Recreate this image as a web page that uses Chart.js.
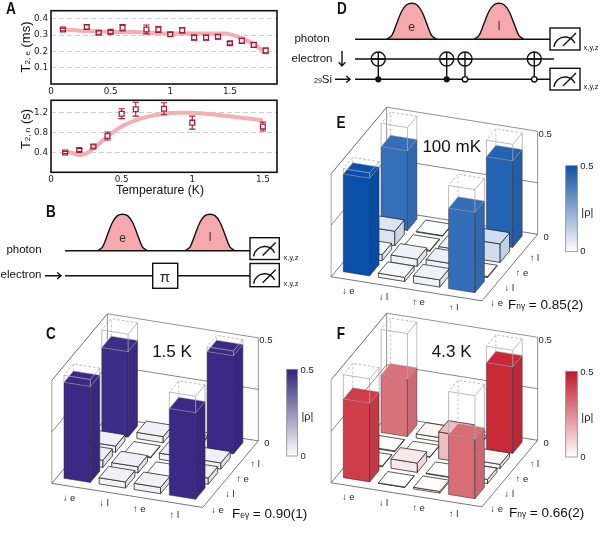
<!DOCTYPE html>
<html>
<head>
<meta charset="utf-8">
<script src="https://cdn.jsdelivr.net/npm/chart.js@4/dist/chart.umd.js"></script>
<style>
  html, body { margin: 0; padding: 0; background: #fff; }
  #page { position: relative; width: 600px; height: 538px; overflow: hidden; font-family: "Liberation Sans", sans-serif; color: #111; }
  canvas { position: absolute; }
  .lbl { position: absolute; white-space: nowrap; transform: translate(-50%, -50%); line-height: 1; }
  .left { transform: translate(0, -50%); }
  .rot { transform: translate(-50%, -50%) rotate(-90deg); }
  .panel { font-family: "Liberation Sans", sans-serif; font-weight: bold; font-size: 17px; transform: translate(-50%, -50%) scaleX(0.8); }
  sub { font-size: 62%; vertical-align: -20%; line-height: 0; }
  sup { font-size: 62%; vertical-align: 45%; line-height: 0; }
</style>
</head>
<body>
<div id="page">
  <canvas id="chartA1" width="290" height="100" style="left:0;top:0"></canvas>
  <canvas id="chartA2" width="290" height="100" style="left:0;top:92px"></canvas>
  <canvas id="circuitB" width="300" height="110" style="left:0;top:195px"></canvas>
  <canvas id="circuitD" width="300" height="100" style="left:300px;top:0"></canvas>
  <canvas id="histC" width="320" height="228" style="left:0;top:310px"></canvas>
  <canvas id="histE" width="280" height="210" style="left:320px;top:100px"></canvas>
  <canvas id="histF" width="280" height="228" style="left:320px;top:310px"></canvas>
</div>
<script>
// panel A, electron coherence
const tempE = [0.1, 0.3, 0.4, 0.5, 0.6, 0.8, 0.9, 1.0, 1.1, 1.2, 1.3, 1.4, 1.5, 1.6, 1.7, 1.8];
const t2e = [0.335, 0.35, 0.315, 0.32, 0.345, 0.335, 0.335, 0.305, 0.33, 0.285, 0.285, 0.29, 0.25, 0.265, 0.24, 0.205];
const t2eErr = [0.008, 0.012, 0.01, 0.008, 0.02, 0.027, 0.018, 0.012, 0.016, 0.015, 0.015, 0.013, 0.01, 0.015, 0.015, 0.016];
const fitTempE = [0.1, 0.3, 0.5, 0.7, 0.9, 1.1, 1.3, 1.45, 1.55, 1.65, 1.72, 1.8];
const fitE = [0.335, 0.325, 0.32, 0.32, 0.312, 0.31, 0.31, 0.31, 0.295, 0.265, 0.235, 0.19];
const ticksA1X = [0, 0.5, 1, 1.5];
const ticksA1Y = [0.1, 0.2, 0.3, 0.4];

// panel A, nuclear coherence
const tempN = [0.1, 0.2, 0.3, 0.4, 0.5, 0.6, 0.8, 1.0, 1.5];
const t2n = [0.4, 0.45, 0.52, 0.73, 1.18, 1.27, 1.28, 1.0, 0.92];
const t2nErr = [0.02, 0.03, 0.03, 0.08, 0.1, 0.14, 0.12, 0.13, 0.09];
const fitTempN = [0.1, 0.15, 0.2, 0.25, 0.3, 0.4, 0.5, 0.6, 0.7, 0.8, 0.9, 1.0, 1.1, 1.2, 1.35, 1.5];
const fitN = [0.42, 0.39, 0.35, 0.38, 0.48, 0.72, 0.92, 1.05, 1.13, 1.18, 1.2, 1.2, 1.18, 1.15, 1.1, 1.05];
const ticksA2X = [0, 0.5, 1, 1.5];
const ticksA2Y = [0.4, 0.8, 1.2];

// pulse envelope in the circuits
const pulseTime = [-1, -0.8, -0.6, -0.4, -0.2, 0, 0.2, 0.4, 0.6, 0.8, 1];
const pulseAmp = [0, 0.1, 0.44, 0.78, 0.96, 1, 0.96, 0.78, 0.44, 0.1, 0];

// density matrices, one row of |rho| per column state
const colStates = ['\u2193 e', '\u2193 l', '\u2191 e', '\u2191 l'];
const rowStates = ['\u2193 e', '\u2193 l', '\u2191 e', '\u2191 l'];
const zTicks = [0, 0.5];
const ideal = [[0.5, 0, 0, 0.5], [0, 0, 0, 0], [0, 0, 0, 0], [0.5, 0, 0, 0.5]];
const rhoC = [
  [0.466, 0.035, 0.03, 0.415],
  [0.03, 0.03, 0.004, 0.03],
  [0.03, 0.006, 0.03, 0.004],
  [0.42, 0.03, 0.03, 0.477]
];
const rhoE = [
  [0.474, 0.03, 0.07, 0.387],
  [0.02, 0.035, 0.005, 0.003],
  [0.035, 0.04, 0.03, 0.005],
  [0.39, 0.005, 0.09, 0.42]
];
const rhoF = [
  [0.382, 0.004, 0.004, 0.279],
  [0.002, 0.045, 0.003, 0.02],
  [0.008, 0.003, 0.13, 0.004],
  [0.289, 0.02, 0.02, 0.42]
];

Chart.defaults.animation = false;
Chart.defaults.responsive = false;
Chart.defaults.plugins.legend.display = false;
Chart.defaults.plugins.tooltip.enabled = false;
Chart.defaults.font.family = '"DejaVu Sans", sans-serif';

const RED = '#b01a3a';

const framePlugin = {
  id: 'frame',
  beforeDatasetsDraw(chart) {
    const a = chart.chartArea, ctx = chart.ctx;
    ctx.save();
    ctx.strokeStyle = '#111';
    ctx.lineWidth = 1.6;
    ctx.strokeRect(a.left, a.top, a.right - a.left, a.bottom - a.top);
    ctx.restore();
  }
};

const errorBarPlugin = {
  id: 'errorBars',
  afterDatasetsDraw(chart) {
    const ctx = chart.ctx;
    chart.data.datasets.forEach(ds => {
      if (!ds.errors) return;
      ctx.save();
      ctx.strokeStyle = RED;
      ctx.lineWidth = 1.1;
      ds.data.forEach((p, i) => {
        const x = chart.scales.x.getPixelForValue(p.x);
        const y = chart.scales.y.getPixelForValue(p.y);
        const y1 = chart.scales.y.getPixelForValue(p.y - ds.errors[i]);
        const y2 = chart.scales.y.getPixelForValue(p.y + ds.errors[i]);
        ctx.beginPath();
        // stems stop at the marker, it stays hollow
        ctx.moveTo(x, Math.max(y1, y + 2.5)); ctx.lineTo(x, y + 2.5);
        ctx.moveTo(x, Math.min(y2, y - 2.5)); ctx.lineTo(x, y - 2.5);
        ctx.moveTo(x - 3.2, y1); ctx.lineTo(x + 3.2, y1);
        ctx.moveTo(x - 3.2, y2); ctx.lineTo(x + 3.2, y2);
        ctx.stroke();
      });
      ctx.restore();
    });
  }
};

function toPoints(xs, ys) {
  return xs.map((x, i) => ({ x: x, y: ys[i] }));
}

function makeTempChart(id, temps, vals, errs, fitT, fit, xTicks, yTicks, xMax, yMax, pad, xHeight) {
  new Chart(document.getElementById(id), {
    type: 'scatter',
    data: {
      datasets: [
        { data: toPoints(temps, vals), errors: errs, pointStyle: 'rect', pointRadius: 3.4, pointBorderWidth: 1.3,
          pointBorderColor: RED, pointBackgroundColor: 'rgba(255,255,255,0.85)', order: 0 },
        { data: toPoints(fitT, fit), showLine: true, pointRadius: 0, borderColor: '#f5aeb2', borderWidth: 4,
          tension: 0.4, cubicInterpolationMode: 'monotone', order: 1 }
      ]
    },
    options: {
      layout: { padding: pad },
      scales: {
        x: {
          type: 'linear', min: 0, max: xMax,
          grid: { display: false, drawTicks: false },
          border: { display: false },
          afterFit: s => { s.height = xHeight; },
          afterBuildTicks: s => { s.ticks = xTicks.map(v => ({ value: v })); },
          ticks: { autoSkip: false, maxRotation: 0, color: '#222', font: { size: 8.8 }, padding: 2, callback: v => String(v) }
        },
        y: {
          type: 'linear', min: 0, max: yMax,
          grid: { color: '#cfcfcf', lineWidth: 1, drawTicks: false },
          border: { display: false, dash: [5, 3] },
          afterFit: s => { s.width = 51; },
          afterBuildTicks: s => { s.ticks = yTicks.map(v => ({ value: v })); },
          ticks: { autoSkip: false, color: '#222', font: { size: 8.8 }, padding: 3, callback: v => String(v) }
        }
      }
    },
    plugins: [framePlugin, errorBarPlugin]
  });
}

makeTempChart('chartA1', tempE, t2e, t2eErr, fitTempE, fitE, ticksA1X, ticksA1Y, 1.895, 0.45,
  { top: 10.7, right: 13, bottom: 0, left: 0 }, 16);
makeTempChart('chartA2', tempN, t2n, t2nErr, fitTempN, fitN, ticksA2X, ticksA2Y, 1.6, 1.45,
  { top: 7, right: 13, bottom: 0, left: 0 }, 19.7);

// ---- circuits ----
function pulseDataset(center, wireY, halfWidth, height) {
  return {
    data: pulseTime.map((t, i) => ({ x: center + t * halfWidth, y: wireY - pulseAmp[i] * height })),
    showLine: true, pointRadius: 0, tension: 0.35, borderColor: '#111', borderWidth: 1.4,
    fill: { value: wireY }, backgroundColor: '#f6a9ad'
  };
}

function wireDataset(x1, x2, y) {
  return {
    data: [{ x: x1, y: y }, { x: x2, y: y }],
    showLine: true, pointRadius: 0, borderColor: '#111', borderWidth: 1.5
  };
}

const circuitPlugin = {
  id: 'circuit',
  afterDatasetsDraw(chart, args, opts) {
    const ctx = chart.ctx, sx = chart.scales.x, sy = chart.scales.y;
    const X = v => sx.getPixelForValue(v), Y = v => sy.getPixelForValue(v);
    ctx.save();
    ctx.strokeStyle = '#111';
    ctx.fillStyle = '#fff';
    ctx.lineWidth = 1.4;
    (opts.boxes || []).forEach(b => {
      ctx.fillRect(X(b[0]), Y(b[2]), b[1] - b[0], b[3] - b[2]);
      ctx.strokeRect(X(b[0]), Y(b[2]), b[1] - b[0], b[3] - b[2]);
    });
    (opts.meters || []).forEach(b => {
      ctx.fillRect(X(b[0]), Y(b[2]), b[1] - b[0], b[3] - b[2]);
      ctx.strokeRect(X(b[0]), Y(b[2]), b[1] - b[0], b[3] - b[2]);
      const cx = X((b[0] + b[1]) / 2), by = Y(b[3]);
      ctx.beginPath();
      ctx.arc(cx, by - 2, 11, Math.PI + 0.1, -0.45);
      ctx.moveTo(cx - 2, by - 4);
      ctx.lineTo(cx + 11, by - 17);
      ctx.stroke();
    });
    (opts.arrows || []).forEach(a => {
      const x1 = X(a[0]), y1 = Y(a[1]), x2 = X(a[2]), y2 = Y(a[3]);
      const ang = Math.atan2(y2 - y1, x2 - x1);
      ctx.beginPath();
      ctx.moveTo(x1, y1); ctx.lineTo(x2, y2);
      ctx.moveTo(x2 - 5 * Math.cos(ang - 0.7), y2 - 5 * Math.sin(ang - 0.7));
      ctx.lineTo(x2, y2);
      ctx.lineTo(x2 - 5 * Math.cos(ang + 0.7), y2 - 5 * Math.sin(ang + 0.7));
      ctx.stroke();
    });
    (opts.cnots || []).forEach(c => {
      const x = X(c[0]), t = Y(c[1]), b = Y(c[2]);
      ctx.beginPath();
      ctx.moveTo(x, t - 7); ctx.lineTo(x, b);
      ctx.moveTo(x - 7, t); ctx.lineTo(x + 7, t);
      ctx.moveTo(x + 7, t);
      ctx.arc(x, t, 7, 0, Math.PI * 2);
      ctx.stroke();
      ctx.beginPath();
      ctx.arc(x, b, c[3] ? 2.7 : 2.4, 0, Math.PI * 2);
      ctx.fillStyle = c[3] ? '#fff' : '#111';
      ctx.fill();
      ctx.stroke();
    });
    ctx.restore();
  }
};

function makeCircuit(id, left, top, w, h, datasets, parts) {
  new Chart(document.getElementById(id), {
    type: 'scatter',
    data: { datasets: datasets },
    options: {
      scales: {
        x: { type: 'linear', display: false, min: left, max: left + w },
        y: { type: 'linear', display: false, min: top, max: top + h, reverse: true }
      },
      plugins: { circuit: parts }
    },
    plugins: [circuitPlugin]
  });
}

makeCircuit('circuitB', 0, 195, 300, 110, [
  wireDataset(65, 250, 250.7),
  wireDataset(65, 250, 275.7),
  pulseDataset(122.5, 250.7, 25, 36.5),
  pulseDataset(210, 250.7, 25, 36.5)
], {
  boxes: [[152.7, 177.7, 263.3, 288.3]],
  meters: [[250, 279.3, 237.7, 259.5], [250, 279.3, 263.5, 286.7]],
  arrows: [[45, 275.7, 61, 275.7]]
});

makeCircuit('circuitD', 300, 0, 300, 100, [
  wireDataset(355, 550, 39.3),
  wireDataset(355, 554, 59),
  wireDataset(355, 550, 79.3),
  pulseDataset(411.7, 39.3, 25, 36),
  pulseDataset(499, 39.3, 25, 36)
], {
  meters: [[550, 580, 28, 50], [550, 580, 68.3, 90]],
  arrows: [[342, 51, 342, 66], [335, 79.3, 350, 79.3]],
  cnots: [[378.3, 59, 79.3, 0], [446.7, 59, 79.3, 0], [465, 59, 79.3, 1], [534.3, 59, 79.3, 1]]
});

// ---- 3D histograms ----
const COL = [35.1, 5.6], ROW = [12.6, -15.1];
const ZUNIT = 206, BAR = 0.75;

function shade(rgb, f) {
  return 'rgb(' + rgb.map(v => Math.round(v * f)).join(',') + ')';
}

function mixWhite(rgb, t) {
  t = Math.min(1, Math.max(0, t));
  return rgb.map(v => 255 + (v - 255) * t);
}

const histPlugin = {
  id: 'hist3d',
  afterDatasetsDraw(chart, args, o) {
    const ctx = chart.ctx, sx = chart.scales.x, sy = chart.scales.y;
    const P = (c, r, h) => [
      sx.getPixelForValue(o.origin[0] + c * COL[0] + r * ROW[0]),
      sy.getPixelForValue(o.origin[1] + c * COL[1] + r * ROW[1] - h * ZUNIT)
    ];
    const line = (pts, color, width, dash) => {
      ctx.beginPath();
      pts.forEach((p, i) => (i ? ctx.lineTo(p[0], p[1]) : ctx.moveTo(p[0], p[1])));
      ctx.strokeStyle = color; ctx.lineWidth = width; ctx.setLineDash(dash || []);
      ctx.stroke();
      ctx.setLineDash([]);
    };
    const face = (pts, fill, edge, width) => {
      ctx.beginPath();
      pts.forEach((p, i) => (i ? ctx.lineTo(p[0], p[1]) : ctx.moveTo(p[0], p[1])));
      ctx.closePath();
      ctx.fillStyle = fill; ctx.fill();
      ctx.strokeStyle = edge; ctx.lineWidth = width; ctx.stroke();
    };
    const c0 = -0.2, c1 = 4.1, r0 = -0.41, r1 = 4;

    // walls and floor
    ctx.save();
    line([P(c0, r0, 0.5), P(c0, r1, 0.5)], '#444', 0.8);
    line([P(c0, r1, 0.5), P(c1, r1, 0.5), P(c1, r1, 0)], '#777', 0.8);
    line([P(c0, r0, 0), P(c0, r0, 0.5)], '#999', 0.9);
    line([P(c0, r1, 0), P(c0, r1, 0.5)], '#777', 0.8);
    line([P(c0, r0, 0.25), P(c0, r1, 0.25), P(c1, r1, 0.25)], '#555', 0.7);
    line([P(c0, r0, 0), P(c1, r0, 0), P(c1, r1, 0), P(c0, r1, 0), P(c0, r0, 0)], '#555', 0.8);

    // bars, back to front
    const pts = chart.data.datasets[0].data;
    for (let r = 3; r >= 0; r--) {
      for (let c = 0; c < 4; c++) {
        const d = pts.find(p => p.x === c && p.y === r);
        const h = d.h;
        const rgb = mixWhite(o.color, h / o.full);
        const big = h > 0.2;
        const edge = big ? '#2a2a3a' : '#222';
        const lw = big ? 0.5 : 0.75;
        const A = [c, r], B = [c + BAR, r], C = [c + BAR, r + BAR], D = [c, r + BAR];
        if (d.ideal > h) {
          line([P(D[0], D[1], h), P(D[0], D[1], d.ideal)], '#aaa', 0.7, [2.5, 2]);
        }
        face([P(A[0], A[1], 0), P(B[0], B[1], 0), P(B[0], B[1], h), P(A[0], A[1], h)], shade(rgb, 1), edge, lw);
        face([P(B[0], B[1], 0), P(C[0], C[1], 0), P(C[0], C[1], h), P(B[0], B[1], h)], shade(rgb, 0.94), edge, lw);
        face([P(A[0], A[1], h), P(B[0], B[1], h), P(C[0], C[1], h), P(D[0], D[1], h)], shade(rgb, 1), big ? '#aaa' : '#222', lw);
        if (d.ideal > h) {
          line([A, B, C].map(q => P(q[0], q[1], d.ideal)), '#aaa', 0.8);
          line([C, D, A].map(q => P(q[0], q[1], d.ideal)), '#aaa', 0.8, [2.5, 2]);
          [A, B, C].forEach(q => line([P(q[0], q[1], h), P(q[0], q[1], d.ideal)], '#aaa', 0.8));
        }
      }
    }

    // state and height labels
    ctx.fillStyle = '#222';
    ctx.font = '9.5px "Liberation Sans", sans-serif';
    ctx.textAlign = 'center';
    ctx.textBaseline = 'middle';
    colStates.forEach((s, i) => {
      const p = P(i + 0.545, -1.12, 0);
      ctx.fillText(s, p[0], p[1]);
    });
    rowStates.forEach((s, i) => {
      const p = P(4.52, i - 0.42, 0);
      ctx.fillText(s, p[0], p[1]);
    });
    ctx.textAlign = 'left';
    zTicks.forEach(v => {
      const p = P(c1, r1, v);
      ctx.fillText(String(v), p[0] + (v ? 1 : 6), p[1] + 3);
    });

    // colour bar
    const b = o.bar;
    const x0 = sx.getPixelForValue(b[0]), x1 = sx.getPixelForValue(b[1]);
    const y0 = sy.getPixelForValue(b[2]), y1 = sy.getPixelForValue(b[3]);
    const grad = ctx.createLinearGradient(0, y1, 0, y0);
    grad.addColorStop(0, '#fff');
    grad.addColorStop(1, shade(o.barColor, 1));
    ctx.fillStyle = grad;
    ctx.fillRect(x0, y0, x1 - x0, y1 - y0);
    ctx.strokeStyle = '#888';
    ctx.lineWidth = 0.8;
    ctx.strokeRect(x0, y0, x1 - x0, y1 - y0);
    ctx.fillStyle = '#222';
    ctx.font = '9.5px "Liberation Sans", sans-serif';
    ctx.fillText('0.5', x1 + 3, y0 + 1);
    ctx.fillText('0', x1 + 3, y1);
    ctx.font = '11px "Liberation Sans", sans-serif';
    ctx.fillText('|\u03c1|', x1 + 4, (y0 + y1) / 2 + 4);
    ctx.restore();
  }
};

function makeHist(id, left, top, w, h, rho, origin, color, barColor, full, bar) {
  const cells = [];
  rho.forEach((vals, c) => vals.forEach((v, r) => cells.push({ x: c, y: r, h: v, ideal: ideal[c][r] })));
  new Chart(document.getElementById(id), {
    type: 'scatter',
    data: { datasets: [{ data: cells, pointRadius: 0 }] },
    options: {
      scales: {
        x: { type: 'linear', display: false, min: left, max: left + w },
        y: { type: 'linear', display: false, min: top, max: top + h, reverse: true }
      },
      plugins: { hist3d: { origin: origin, color: color, barColor: barColor, full: full, bar: bar } }
    },
    plugins: [histPlugin]
  });
}

makeHist('histC', 0, 310, 320, 228, rhoC, [64, 478.3], [58, 42, 134], [48, 36, 120], 0.42, [286.7, 297.5, 369.3, 456]);
makeHist('histE', 320, 100, 280, 210, rhoE, [343.3, 271.7], [10, 80, 170], [15, 79, 159], 0.47, [565.7, 577.3, 165.7, 251.7]);
makeHist('histF', 320, 310, 280, 228, rhoF, [343.3, 477.7], [197, 32, 47], [190, 25, 40], 0.44, [565.7, 577.3, 371.3, 457]);

// ---- labels ----
const textLabels = [
  { html: 'A', x: 11, y: 8, cls: 'panel' }, { html: 'B', x: 51, y: 211, cls: 'panel' },
  { html: 'C', x: 51, y: 333, cls: 'panel' }, { html: 'D', x: 342, y: 8, cls: 'panel' },
  { html: 'E', x: 341, y: 122, cls: 'panel' }, { html: 'F', x: 341, y: 333, cls: 'panel' },
  { html: 'T<sub>2, e</sub> (ms)', x: 25, y: 47, size: 13, cls: 'rot' },
  { html: 'T<sub>2, n</sub> (s)', x: 25, y: 129, size: 13, cls: 'rot' },
  { html: 'Temperature (K)', x: 160, y: 190, size: 12.2 },
  { html: 'e', x: 122.5, y: 238, size: 12, color: '#333' }, { html: 'l', x: 210, y: 237, size: 12, color: '#333' },
  { html: 'photon', x: 24, y: 250, size: 11.5 }, { html: 'electron', x: 21, y: 275, size: 11.5 },
  { html: '\u03c0', x: 165, y: 276, size: 15, color: '#222' },
  { html: 'x,y,z', x: 291, y: 257.7, size: 7.5 }, { html: 'x,y,z', x: 291, y: 284, size: 7.5 },
  { html: 'e', x: 411.7, y: 27, size: 12, color: '#333' }, { html: 'l', x: 499, y: 26, size: 12, color: '#333' },
  { html: 'photon', x: 312, y: 39, size: 11.5 }, { html: 'electron', x: 312, y: 59, size: 11.5 },
  { html: '<sup>29</sup>Si', x: 323, y: 80, size: 11.5 },
  { html: 'x,y,z', x: 591, y: 48, size: 7.5 }, { html: 'x,y,z', x: 591, y: 87, size: 7.5 },
  { html: '1.5 K', x: 172, y: 350.7, size: 17 }, { html: '100 mK', x: 451.7, y: 145.7, size: 17 },
  { html: '4.3 K', x: 451.7, y: 350.7, size: 17 },
  { html: 'F<sub>e\u03b3</sub> = 0.90(1)', x: 232, y: 514, size: 13.5, cls: 'left' },
  { html: 'F<sub>n\u03b3</sub> = 0.85(2)', x: 508, y: 305, size: 13.5, cls: 'left' },
  { html: 'F<sub>n\u03b3</sub> = 0.66(2)', x: 509, y: 513, size: 13.5, cls: 'left' }
];

const page = document.getElementById('page');
textLabels.forEach(t => {
  const el = document.createElement('div');
  el.className = 'lbl ' + (t.cls || '');
  el.innerHTML = t.html;
  el.style.left = t.x + 'px';
  el.style.top = t.y + 'px';
  if (t.size) el.style.fontSize = t.size + 'px';
  if (t.color) el.style.color = t.color;
  page.appendChild(el);
});
</script>
</body>
</html>
